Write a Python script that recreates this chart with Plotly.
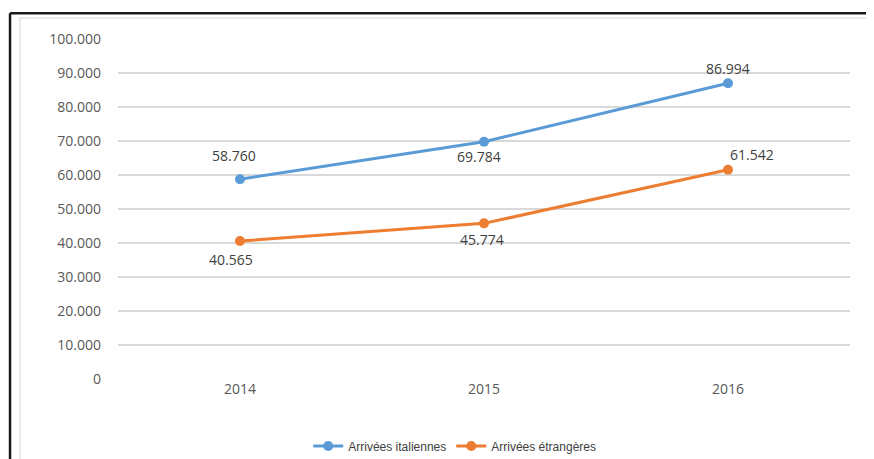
import plotly.graph_objects as go

years = ["2014", "2015", "2016"]
italiennes = [58760, 69784, 86994]
etrangeres = [40565, 45774, 61542]
y_ticks = [0, 10000, 20000, 30000, 40000, 50000, 60000, 70000, 80000, 90000, 100000]

def fmt(v):
    return f"{v:,}".replace(",", ".")

blue = "#5B9BD5"
orange = "#ED7D31"

fig = go.Figure()
fig.add_trace(go.Scatter(x=years, y=italiennes, mode="lines+markers", name="Arrivées italiennes",
                         line=dict(color=blue, width=3), marker=dict(size=10, color=blue)))
fig.add_trace(go.Scatter(x=years, y=etrangeres, mode="lines+markers", name="Arrivées étrangères",
                         line=dict(color=orange, width=3), marker=dict(size=10, color=orange)))

# label offsets (pixels: dx right, dy down)
off_it = [(-6, -24), (-5, 15), (0, -15)]
off_et = [(-9, 18), (-2, 16), (24, -15)]
for series, offs in ((italiennes, off_it), (etrangeres, off_et)):
    for i, (v, (dx, dy)) in enumerate(zip(series, offs)):
        fig.add_annotation(x=i, y=v, xref="x", yref="y", text=fmt(v), showarrow=False,
                           xshift=dx, yshift=-dy,
                           font=dict(size=14, color="#404040", family="Open Sans"))

# outer dark frame (top and left) and inner light frame
fig.add_shape(type="line", xref="paper", yref="paper", x0=-0.1475, x1=1.04, y0=1.076, y1=1.076,
              line=dict(color="#1a1a1a", width=2.5))
fig.add_shape(type="line", xref="paper", yref="paper", x0=-0.1475, x1=-0.1475, y0=1.076, y1=-0.26,
              line=dict(color="#1a1a1a", width=2.5))
fig.add_shape(type="rect", xref="paper", yref="paper", x0=-0.134, x1=1.027, y0=-0.26, y1=1.062,
              line=dict(color="#e3e3e3", width=1.5))

fig.update_layout(
    width=866, height=451,
    margin=dict(l=110, r=24, t=31, b=80),
    paper_bgcolor="white", plot_bgcolor="white",
    separators=",.",
    font=dict(family="Open Sans", color="#595959"),
    showlegend=True,
    legend=dict(orientation="h", x=0.46, xanchor="center", y=0.029, yanchor="middle",
                yref="container",
                bgcolor="rgba(0,0,0,0)",
                font=dict(size=12, color="#404040", family="Liberation Sans"),
                itemwidth=30, tracegroupgap=0),
)
fig.update_xaxes(type="category", range=[-0.5, 2.5], showgrid=False, showline=False, zeroline=False,
                 ticks="", tickfont=dict(size=14, color="#595959"))
fig.update_yaxes(range=[0, 100000], tickvals=y_ticks, tickformat=",.0f", showgrid=True,
                 gridcolor="#d9d9d9", gridwidth=1.5, zeroline=False, showline=False, ticks="",
                 ticklabelstandoff=16, tickfont=dict(size=14, color="#595959"))

fig.write_html("out.html")
